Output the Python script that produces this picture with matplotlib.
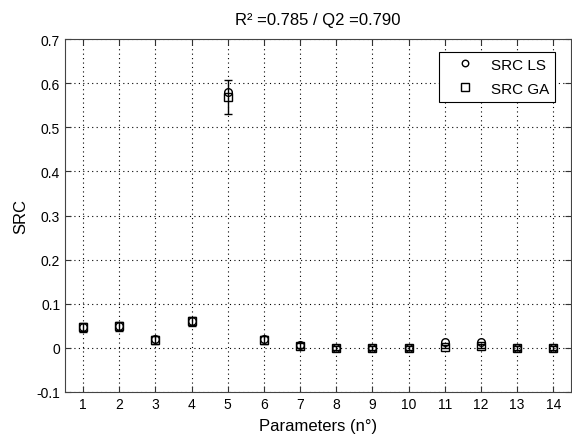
import matplotlib
matplotlib.use("Agg")
import matplotlib.pyplot as plt
import numpy as np

plt.rcParams['font.family'] = ['Liberation Sans', 'DejaVu Sans']

params = list(range(1, 15))
src_ls = [0.048, 0.050, 0.019, 0.060, 0.580, 0.019, 0.006, 0.000, 0.000, 0.000, 0.013, 0.014, 0.000, 0.000]
src_ga = [0.047, 0.049, 0.018, 0.060, 0.568, 0.018, 0.005, 0.000, 0.000, 0.000, 0.003, 0.004, 0.000, 0.000]
ga_err = [0.010, 0.010, 0.009, 0.011, 0.038, 0.009, 0.005, 0.004, 0.004, 0.004, 0.004, 0.004, 0.004, 0.004]
title = "R² =0.785 / Q2 =0.790"

W, H = 572, 435
fig = plt.figure(figsize=(W / 100, H / 100), dpi=100)
left, right, top, bottom = 65, 571.4, 40, 393
ax = fig.add_axes([left / W, 1 - bottom / H, (right - left) / W, (bottom - top) / H])

ax.errorbar(params, src_ga, yerr=ga_err, fmt='none', ecolor='black', elinewidth=1.0, capsize=3, capthick=1.0, zorder=3)
ax.plot(params, src_ls, linestyle='none', marker='o', markersize=5.5, markerfacecolor='none', markeredgecolor='black', markeredgewidth=1.0, label='SRC LS', zorder=4)
ax.plot(params, src_ga, linestyle='none', marker='s', markersize=6, markerfacecolor='none', markeredgecolor='black', markeredgewidth=1.0, label='SRC GA', zorder=4)

ax.set_xlim(0.5, 14.5)
ax.set_ylim(-0.1, 0.7)
ax.set_xticks(params)
ax.set_yticks(np.round(np.arange(-0.1, 0.71, 0.1), 1))
ax.set_yticklabels(['-0.1', '0', '0.1', '0.2', '0.3', '0.4', '0.5', '0.6', '0.7'])
ax.tick_params(direction='in', top=True, right=True, labelsize=10, length=4, color='#333333')
for s in ax.spines.values():
    s.set_color('#444444')
ax.grid(True, linestyle=(0, (1, 3)), color='black', linewidth=0.8)
ax.set_axisbelow(True)
ax.set_xlabel('Parameters (n°)', fontsize=12, labelpad=5)
ax.set_ylabel('SRC', fontsize=12, labelpad=6)
ax.set_title(title, fontsize=12, pad=11)
leg = ax.legend(loc='upper right', bbox_to_anchor=((555 - left) / (right - left), 1 - 12.7 / (bottom - top)),
                borderaxespad=0, fontsize=11, frameon=True, fancybox=False, edgecolor='black',
                framealpha=1, handlelength=2.6, handletextpad=0.35, borderpad=0.4, labelspacing=0.65,
                markerscale=0.85)
leg.get_frame().set_linewidth(0.8)

fig.savefig('out.png', dpi=100)
